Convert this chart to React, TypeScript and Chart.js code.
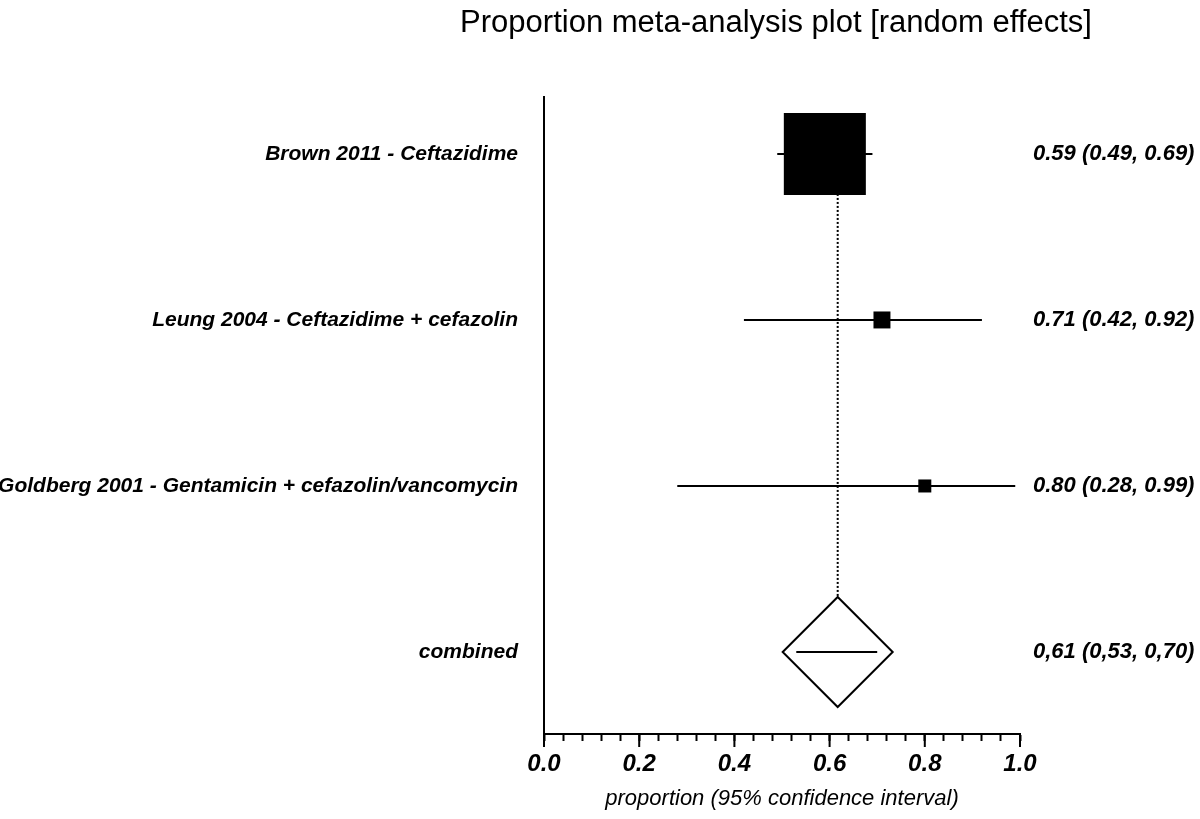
import React, { useEffect, useRef } from 'react';
import { Chart, registerables } from 'chart.js';

Chart.register(...registerables);

const TITLE = 'Proportion meta-analysis plot [random effects]';
const AXIS_TITLE = 'proportion (95% confidence interval)';

const studyLabels = [
  'Brown 2011 - Ceftazidime',
  'Leung 2004 - Ceftazidime + cefazolin',
  'Goldberg 2001 - Gentamicin + cefazolin/vancomycin',
  'combined',
];
const ciLabels = [
  '0.59 (0.49, 0.69)',
  '0.71 (0.42, 0.92)',
  '0.80 (0.28, 0.99)',
  '0,61 (0,53, 0,70)',
];
const estimates = [0.59, 0.71, 0.8];
const lowerCI = [0.49, 0.42, 0.28];
const upperCI = [0.69, 0.92, 0.99];
const pooledEstimate = 0.617;
const pooledLower = 0.53;
const pooledUpper = 0.7;
const majorTicks = [0.0, 0.2, 0.4, 0.6, 0.8, 1.0];
const minorTicks = [
  0.0, 0.04, 0.08, 0.12, 0.16, 0.2, 0.24, 0.28, 0.32, 0.36, 0.4, 0.44, 0.48,
  0.52, 0.56, 0.6, 0.64, 0.68, 0.72, 0.76, 0.8, 0.84, 0.88, 0.92, 0.96, 1.0,
];
const rowIndex = [0, 1, 2, 3];

const FONT = '"Liberation Sans", Arial, Helvetica, sans-serif';

const isMajor = (v: number) => majorTicks.some((m) => Math.abs(m - v) < 1e-6);

const decorPlugin = {
  id: 'decor',
  afterDraw(chart: any) {
    const ctx = chart.ctx;
    const xs = chart.scales.x;
    ctx.save();
    // title
    ctx.font = `31px ${FONT}`;
    ctx.fillStyle = '#000';
    ctx.textAlign = 'center';
    ctx.textBaseline = 'alphabetic';
    ctx.fillText(TITLE, 776, 32);
    // long major ticks
    ctx.strokeStyle = '#000';
    ctx.lineWidth = 2;
    majorTicks.forEach((v) => {
      const px = xs.getPixelForValue(v);
      ctx.beginPath();
      ctx.moveTo(px, xs.top);
      ctx.lineTo(px, xs.top + 13);
      ctx.stroke();
    });
    ctx.restore();
  },
};

export default function App() {
  const ref = useRef<HTMLCanvasElement>(null);

  useEffect(() => {
    const ciLineSets = estimates.map((_, i) => ({
      data: [
        { x: lowerCI[i], y: rowIndex[i] },
        { x: upperCI[i], y: rowIndex[i] },
      ],
      showLine: true,
      borderColor: '#000',
      borderWidth: 2,
      pointRadius: 0,
    }));

    const yBase = {
      type: 'linear' as const,
      reverse: true,
      min: -0.343,
      max: 3.494,
      grid: { display: false, drawTicks: false },
      afterBuildTicks: (s: any) => {
        s.ticks = rowIndex.map((v) => ({ value: v }));
      },
    };

    const chart = new Chart(ref.current!, {
      type: 'scatter',
      data: {
        datasets: [
          {
            // diamond inner line (pooled CI)
            data: [
              { x: pooledLower, y: rowIndex[3] },
              { x: pooledUpper, y: rowIndex[3] },
            ],
            showLine: true,
            borderColor: '#000',
            borderWidth: 2,
            pointRadius: 0,
          },
          {
            // pooled diamond
            data: [{ x: pooledEstimate, y: rowIndex[3] }],
            pointStyle: 'rectRot',
            pointRadius: 55,
            backgroundColor: '#fff',
            borderColor: '#000',
            borderWidth: 2,
          },
          {
            // study boxes
            data: estimates.map((e, i) => ({ x: e, y: rowIndex[i] })),
            pointStyle: 'rect',
            pointRadius: [58, 12, 9.2],
            backgroundColor: '#000',
            borderColor: '#000',
            borderWidth: 0,
          },
          ...ciLineSets,
          {
            // dotted pooled line
            data: [
              { x: pooledEstimate, y: rowIndex[0] },
              { x: pooledEstimate, y: rowIndex[3] },
            ],
            showLine: true,
            borderColor: '#000',
            borderWidth: 2,
            borderDash: [2, 2],
            pointRadius: 0,
          },
        ] as any,
      },
      options: {
        responsive: false,
        animation: false,
        events: [],
        layout: { padding: { top: 97, left: 0, right: 0, bottom: 0 } },
        plugins: {
          legend: { display: false },
          tooltip: { enabled: false },
          title: { display: false },
        },
        scales: {
          x: {
            type: 'linear',
            min: 0,
            max: 1,
            afterFit: (s: any) => {
              s.height = 85;
            },
            afterBuildTicks: (s: any) => {
              s.ticks = minorTicks.map((v) => ({ value: v }));
            },
            ticks: {
              autoSkip: false,
              maxRotation: 0,
              color: '#000',
              padding: 9,
              font: { family: FONT, size: 24, style: 'italic', weight: 'bold' },
              callback: (v: any) => (isMajor(Number(v)) ? Number(v).toFixed(1) : ''),
            },
            grid: {
              drawOnChartArea: false,
              drawTicks: true,
              tickLength: 7,
              tickWidth: 2,
              tickColor: '#000',
            },
            border: { display: true, color: '#000', width: 2 },
            title: {
              display: true,
              text: AXIS_TITLE,
              color: '#000',
              font: { family: FONT, size: 22, style: 'italic' },
              padding: { top: 4, bottom: 7 },
            },
          },
          y: {
            ...yBase,
            position: 'left',
            afterFit: (s: any) => {
              s.width = 544;
            },
            ticks: {
              autoSkip: false,
              color: '#000',
              padding: 26,
              font: { family: FONT, size: 21, style: 'italic', weight: 'bold' },
              callback: (v: any) => studyLabels[Math.round(Number(v))],
            },
            border: { display: true, color: '#000', width: 2 },
          },
          y2: {
            ...yBase,
            position: 'right',
            afterFit: (s: any) => {
              s.width = 180;
            },
            ticks: {
              autoSkip: false,
              color: '#000',
              padding: 13,
              font: { family: FONT, size: 22, style: 'italic', weight: 'bold' },
              callback: (v: any) => ciLabels[Math.round(Number(v))],
            },
            border: { display: false },
          },
        } as any,
      },
      plugins: [decorPlugin],
    });

    return () => chart.destroy();
  }, []);

  return (
    <div
      style={{
        position: 'absolute',
        left: 0,
        top: 0,
        width: 1200,
        height: 819,
        background: '#fff',
      }}
    >
      <canvas ref={ref} width={1200} height={819} style={{ display: 'block' }} />
    </div>
  );
}
